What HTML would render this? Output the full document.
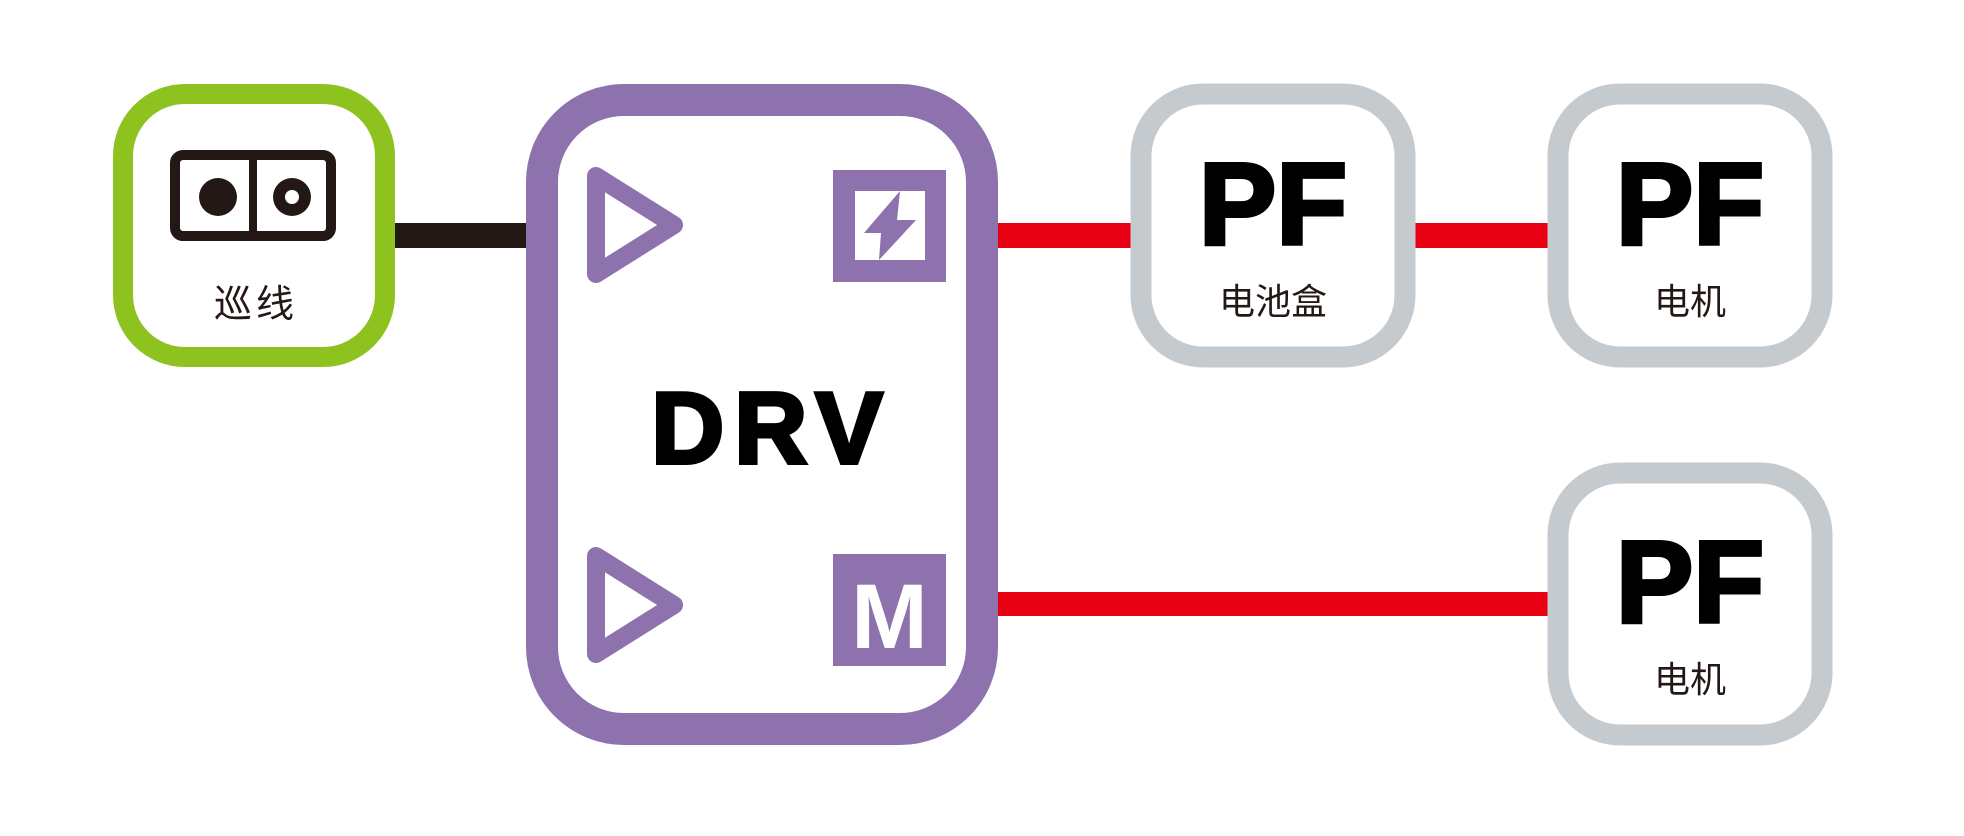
<!DOCTYPE html>
<html><head><meta charset="utf-8"><style>html,body{margin:0;padding:0;background:#fff;width:1964px;height:836px;overflow:hidden}</style></head>
<body>
<svg width="1964" height="836" viewBox="0 0 1964 836" xmlns="http://www.w3.org/2000/svg">
<rect x="390" y="223" width="140" height="25" fill="#231815"/>
<rect x="995" y="223" width="140" height="25" fill="#E60012"/>
<rect x="1412" y="223" width="140" height="25" fill="#E60012"/>
<rect x="995" y="592" width="557" height="24" fill="#E60012"/>
<rect x="123" y="94" width="262" height="263" rx="62" fill="#fff" stroke="#8DC21F" stroke-width="20"/>
<rect x="175" y="155" width="156" height="81" rx="8" fill="#fff" stroke="#231815" stroke-width="10"/>
<line x1="253" y1="152" x2="253" y2="240" stroke="#231815" stroke-width="8"/>
<circle cx="218" cy="197" r="19" fill="#231815"/>
<circle cx="292" cy="197" r="19" fill="#231815"/>
<circle cx="292" cy="197" r="7" fill="#fff"/>
<text x="256" y="317" font-size="38" text-anchor="middle" font-family="'Liberation Sans','Noto Sans CJK SC',sans-serif" fill="#231815" letter-spacing="4">巡线</text>
<rect x="542" y="100" width="440" height="629" rx="82" fill="#fff" stroke="#8E72AE" stroke-width="32"/>
<polygon points="596,176 674,225 596,274" fill="none" stroke="#8E72AE" stroke-width="18" stroke-linejoin="round"/>
<polygon points="596,556 674,605 596,654" fill="none" stroke="#8E72AE" stroke-width="18" stroke-linejoin="round"/>
<rect x="833" y="170" width="113" height="112" fill="#8E72AE"/>
<rect x="855" y="191" width="70" height="69" fill="#fff"/>
<polygon points="900,191 864,233 881,233 879,260 916,220 897,220" fill="#8E72AE"/>
<rect x="833" y="554" width="113" height="112" fill="#8E72AE"/>
<text x="889.5" y="648" font-size="92" font-weight="bold" text-anchor="middle" font-family="'Liberation Sans',sans-serif" fill="#fff">M</text>
<text x="772" y="463" font-size="101" font-weight="bold" text-anchor="middle" font-family="'Liberation Sans',sans-serif" fill="#000" stroke="#000" stroke-width="4" letter-spacing="10">DRV</text>
<g font-family="'Liberation Sans','Noto Sans CJK SC',sans-serif" text-anchor="middle">
<rect x="1141" y="94" width="264" height="263" rx="62" fill="#fff" stroke="#C5CACE" stroke-width="21"/>
<text x="1273" y="244" font-size="116" font-weight="bold" fill="#000" stroke="#000" stroke-width="4">PF</text>
<text x="1273" y="314" font-size="36" fill="#231815">电池盒</text>
<rect x="1558" y="94" width="264" height="263" rx="62" fill="#fff" stroke="#C5CACE" stroke-width="21"/>
<text x="1690" y="244" font-size="116" font-weight="bold" fill="#000" stroke="#000" stroke-width="4">PF</text>
<text x="1690" y="314" font-size="36" fill="#231815">电机</text>
<rect x="1558" y="473" width="264" height="262" rx="62" fill="#fff" stroke="#C5CACE" stroke-width="21"/>
<text x="1690" y="622" font-size="116" font-weight="bold" fill="#000" stroke="#000" stroke-width="4">PF</text>
<text x="1690" y="692" font-size="36" fill="#231815">电机</text>
</g>
</svg>
</body></html>
